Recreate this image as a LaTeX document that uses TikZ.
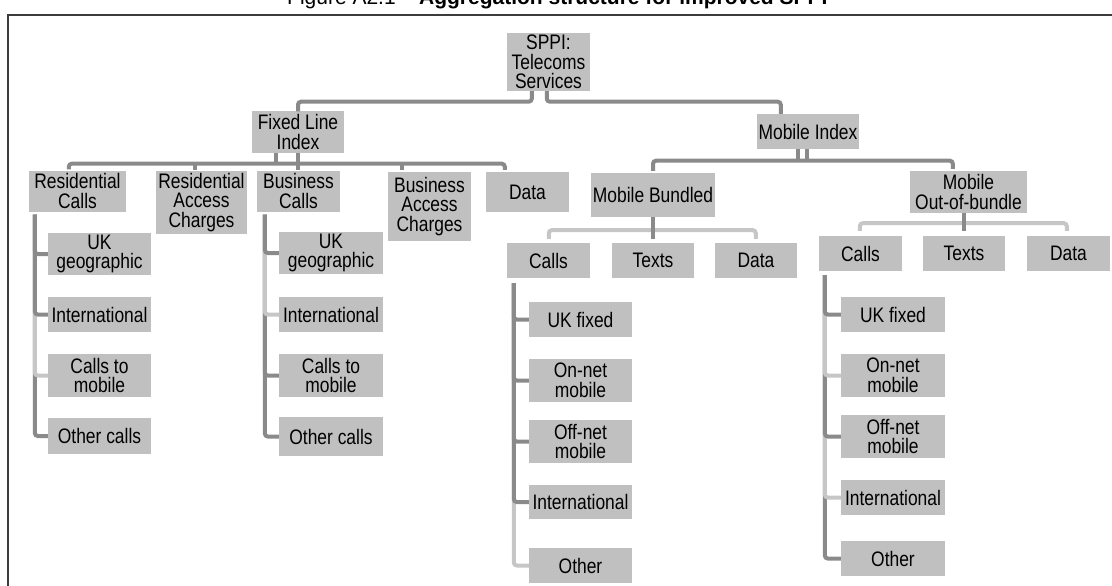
\documentclass[tikz,border=0pt]{standalone}
\usepackage{fontspec}
\setmainfont{Liberation Sans}
\newfontfamily\bxfont[FakeStretch=0.83]{Liberation Sans}
\usetikzlibrary{calc}
\definecolor{boxgray}{HTML}{C0C0C0}
\definecolor{dkline}{HTML}{8A8A8A}
\definecolor{ltline}{HTML}{C6C6C6}
\definecolor{framec}{HTML}{3C3C3C}
\begin{document}
\begin{tikzpicture}[x=1pt,y=-1pt,
  box/.style={fill=boxgray, inner sep=0pt, align=center, text=black,
    font=\bxfont\fontsize{21}{19.5}\selectfont},
  sz/.style 2 args={minimum width=#1, minimum height=#2},
  dk/.style={draw=dkline, line width=4pt, rounded corners=3pt},
  lt/.style={draw=ltline, line width=4pt, rounded corners=3pt}]
\useasboundingbox (0,0) rectangle (1112,586);
\clip (0,0) rectangle (1112,586);
% title (cut at the top) and frame
\node[anchor=base west, inner sep=0pt, font=\fontsize{21}{21}\selectfont] (title) at (287,5)
  {Figure A2.1 – \textbf{Aggregation structure for improved SPPI}};
\draw[framec, line width=2pt] (8,620) -- (8,15) -- (1130,15);
% ---------- nodes ----------
\node[box, sz={83pt}{58pt}] (sppi) at (548.5,62) {SPPI:\\Telecoms\\Services};
\node[box, sz={92pt}{41pt}] (fixed) at (298,132) {Fixed Line\\Index};
\node[box, sz={102pt}{35pt}] (mobidx) at (808,131.5) {Mobile Index};
\node[box, sz={97pt}{41pt}] (rescalls) at (77.5,191) {Residential\\Calls};
\node[box, sz={91pt}{63pt}] (resacc) at (201.5,202.5) {Residential\\Access\\Charges};
\node[box, sz={83pt}{41pt}] (buscalls) at (298.5,191) {Business\\Calls};
\node[box, sz={83pt}{69pt}] (busacc) at (429.5,206.5) {Business\\Access\\Charges};
\node[box, sz={83pt}{40pt}] (fdata) at (527.5,192) {Data};
\node[box, sz={124pt}{44pt}] (mb) at (653,195) {Mobile Bundled};
\node[box, sz={117pt}{42pt}] (oob) at (968.5,192) {Mobile\\Out-of-bundle};
\node[box, sz={83pt}{35pt}] (mbcalls) at (548.5,260.5) {Calls};
\node[box, sz={82pt}{35pt}] (mbtexts) at (653,260.5) {Texts};
\node[box, sz={82pt}{35pt}] (mbdata) at (756,260.5) {Data};
\node[box, sz={83pt}{35pt}] (oobcalls) at (860.5,253.5) {Calls};
\node[box, sz={82pt}{35pt}] (oobtexts) at (964,253.5) {Texts};
\node[box, sz={83pt}{35pt}] (oobdata) at (1068.5,253.5) {Data};
% residential calls children
\node[box, sz={103pt}{42pt}] (rc1) at (99.5,254) {UK\\geographic};
\node[box, sz={103pt}{35pt}] (rc2) at (99.5,314.5) {International};
\node[box, sz={103pt}{43pt}] (rc3) at (99.5,375.5) {Calls to\\mobile};
\node[box, sz={103pt}{36pt}] (rc4) at (99.5,436) {Other calls};
% business calls children
\node[box, sz={104pt}{42pt}] (bc1) at (331,253) {UK\\geographic};
\node[box, sz={104pt}{35pt}] (bc2) at (331,314.5) {International};
\node[box, sz={104pt}{43pt}] (bc3) at (331,375.5) {Calls to\\mobile};
\node[box, sz={104pt}{39pt}] (bc4) at (331,436.5) {Other calls};
% mobile bundled calls children
\node[box, sz={103pt}{35pt}] (m1) at (580.5,319.5) {UK fixed};
\node[box, sz={103pt}{43pt}] (m2) at (580.5,380.5) {On-net\\mobile};
\node[box, sz={103pt}{43pt}] (m3) at (580.5,441.5) {Off-net\\mobile};
\node[box, sz={103pt}{34pt}] (m4) at (580.5,502) {International};
\node[box, sz={103pt}{35pt}] (m5) at (580.5,565.5) {Other};
% out-of-bundle calls children
\node[box, sz={104pt}{35pt}] (o1) at (893,314.5) {UK fixed};
\node[box, sz={104pt}{43pt}] (o2) at (893,375.5) {On-net\\mobile};
\node[box, sz={104pt}{43pt}] (o3) at (893,436.5) {Off-net\\mobile};
\node[box, sz={104pt}{35pt}] (o4) at (893,497.5) {International};
\node[box, sz={104pt}{35pt}] (o5) at (893,558.5) {Other};
% ---------- connectors ----------
% SPPI
\coordinate (s1) at ($(sppi.south west)+(25,0)$);
\coordinate (s2) at ($(sppi.south west)+(40,0)$);
\coordinate (mit) at ($(mobidx.north west)+(24,0)$);
\draw[dk] (s1) -- ++(0,10.5) -| (fixed.north);
\draw[dk] (s2) -- ++(0,10.5) -| (mit);
% fixed line
\coordinate (fb) at ($(fixed.south)+(0,11)$);
\coordinate (f1) at ($(fixed.south west)+(24,0)$);
\coordinate (rct) at ($(rescalls.north west)+(40,-1)$);
\coordinate (rat) at ($(resacc.north west)+(39,-1)$);
\coordinate (bat) at ($(busacc.north west)+(14,-2)$);
\coordinate (fdt) at ($(fdata.north west)+(19,-2)$);
\draw[dk] (rct) |- (fb) -| (fdt);
\draw[dk] (f1) -- (f1 |- fb);
\draw[dk] (fixed.south) -- (fixed.south |- buscalls.north);
\draw[dk] (rat) -- (rat |- fb);
\draw[dk] (bat) -- (bat |- fb);
% mobile index
\coordinate (mib) at ($(mobidx.south)+(0,11.5)$);
\coordinate (mi1) at ($(mobidx.south west)+(41,0)$);
\coordinate (mi2) at ($(mobidx.south west)+(50,0)$);
\coordinate (mbt) at ($(mb.north)+(0,-2)$);
\coordinate (oot) at ($(oob.north west)+(43,-2)$);
\draw[dk] (mbt) |- (mib) -| (oot);
\draw[dk] (mi1) -- (mi1 |- mib);
\draw[dk] (mi2) -- (mi2 |- mib);
% mobile bundled
\coordinate (mbb) at ($(mb.south)+(0,13)$);
\coordinate (mbl) at ($(mbcalls.north west)+(42,-4)$);
\coordinate (mbr) at ($(mbdata.north west)+(41,-4)$);
\draw[lt] (mbl) |- (mbb) -| (mbr);
\draw[dk] (mb.south) -- ($(mb.south)+(0,22)$);
% out of bundle
\coordinate (oobb) at ($(oob.south)+(0,10)$);
\coordinate (ool) at ($(oobcalls.north west)+(41,-5)$);
\coordinate (oor) at ($(oobdata.north west)+(40,-5)$);
\coordinate (oos) at ($(oob.south)+(-4.5,0)$);
\draw[lt] (ool) |- (oobb) -| (oor);
\draw[dk] (oos) -- ++(0,18);
% residential calls children
\coordinate (rcv) at ($(rescalls.south west)+(6,3)$);
\draw[dk] (rcv) |- (rc4.west);
\draw[lt] (rcv) |- (rc3.west);
\draw[dk] (rcv) |- (rc2.west);
\draw[dk] (rcv) |- (rc1.west);
% business calls children
\coordinate (bcv) at ($(buscalls.south west)+(8,3)$);
\draw[dk] (bcv) |- (bc4.west);
\draw[dk] (bcv) |- (bc3.west);
\draw[lt] (bcv) |- (bc2.west);
\draw[dk] (bcv) |- (bc1.west);
% mobile bundled calls children
\coordinate (mcv) at ($(mbcalls.south west)+(7,5)$);
\draw[lt] (mcv) |- (m5.west);
\draw[dk] (mcv) |- (m4.west);
\draw[dk] (mcv) |- (m3.west);
\draw[dk] (mcv) |- (m2.west);
\draw[dk] (mcv) |- (m1.west);
% out-of-bundle calls children
\coordinate (ocv) at ($(oobcalls.south west)+(6,4)$);
\draw[dk] (ocv) |- (o5.west);
\draw[lt] (ocv) |- (o4.west);
\draw[dk] (ocv) |- (o3.west);
\draw[lt] (ocv) |- (o2.west);
\draw[dk] (ocv) |- (o1.west);
\end{tikzpicture}
\end{document}
